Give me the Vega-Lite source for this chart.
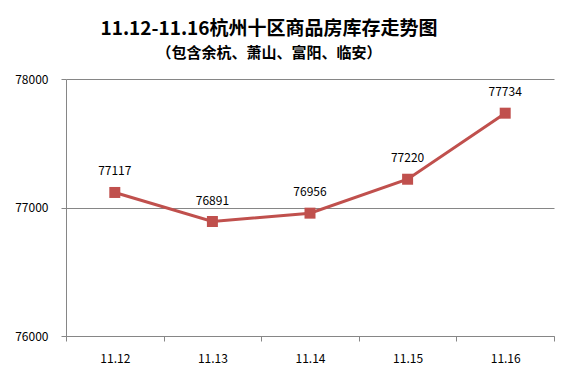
{
  "$schema": "https://vega.github.io/schema/vega-lite/v6.json",
  "width": 488,
  "height": 257,
  "autosize": "none",
  "padding": {"left": 66, "top": 79, "right": 33, "bottom": 46},
  "background": "white",
  "title": {
    "text": "11.12-11.16杭州十区商品房库存走势图",
    "subtitle": "（包含余杭、萧山、富阳、临安）",
    "anchor": "middle",
    "dx": -41,
    "offset": 12,
    "font": "Noto Sans CJK SC",
    "fontSize": 19,
    "fontWeight": "bold",
    "color": "#000000",
    "subtitleFont": "Noto Sans CJK SC",
    "subtitleFontSize": 15,
    "subtitleFontWeight": "bold",
    "subtitleColor": "#000000",
    "subtitlePadding": 7
  },
  "data": {
    "values": [
      {"date": "11.12", "stock": 77117},
      {"date": "11.13", "stock": 76891},
      {"date": "11.14", "stock": 76956},
      {"date": "11.15", "stock": 77220},
      {"date": "11.16", "stock": 77734}
    ]
  },
  "config": {
    "view": {"stroke": null},
    "font": "Noto Sans CJK SC"
  },
  "encoding": {
    "x": {
      "field": "date",
      "type": "ordinal",
      "scale": {"type": "band", "paddingInner": 0, "paddingOuter": 0},
      "axis": {
        "title": null,
        "labelAngle": 0,
        "tickBand": "extent",
        "tickSize": 5,
        "tickColor": "#868686",
        "domainColor": "#868686",
        "labelPadding": 12,
        "labelFontSize": 12,
        "labelColor": "#000000",
        "labelFont": "Noto Sans CJK SC",
        "grid": false
      }
    },
    "y": {
      "field": "stock",
      "type": "quantitative",
      "scale": {"domain": [76000, 78000], "nice": false, "zero": false},
      "axis": {
        "title": null,
        "values": [76000, 77000, 78000],
        "format": "d",
        "tickSize": 5,
        "tickColor": "#868686",
        "domainColor": "#868686",
        "gridColor": "#868686",
        "gridWidth": 1,
        "labelPadding": 13,
        "labelFontSize": 12,
        "labelColor": "#000000",
        "labelFont": "Noto Sans CJK SC"
      }
    }
  },
  "layer": [
    {"mark": {"type": "line", "color": "#C0504D", "strokeWidth": 3}},
    {"mark": {"type": "point", "shape": "square", "filled": true, "size": 121, "color": "#C0504D", "opacity": 1}},
    {
      "mark": {"type": "text", "dy": -21, "fontSize": 12, "color": "#000000", "font": "Noto Sans CJK SC"},
      "encoding": {"text": {"field": "stock", "type": "quantitative", "format": "d"}}
    }
  ]
}
